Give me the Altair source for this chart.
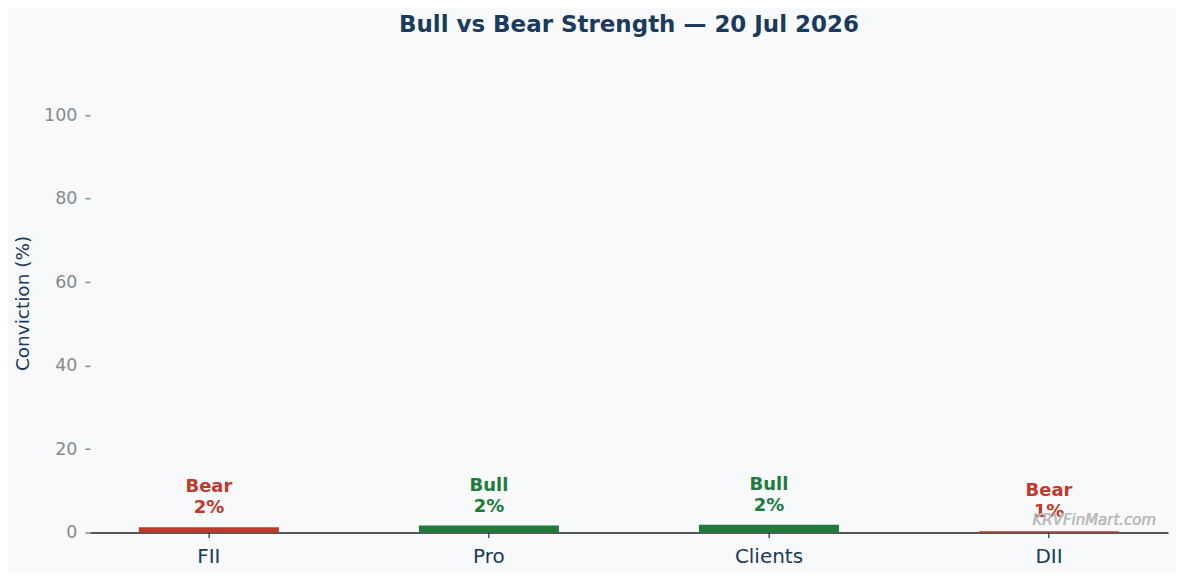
import altair as alt
import pandas as pd

# participant conviction for the day
participants = ["FII", "Pro", "Clients", "DII"]
conviction = [1.3, 1.7, 1.9, 0.3]
stance = ["Bear", "Bull", "Bull", "Bear"]
pct_text = ["2%", "2%", "2%", "1%"]

title_text = "Bull vs Bear Strength — 20 Jul 2026"
watermark = "KRVFinMart.com"

navy = "#1b3a5c"
font = "DejaVu Sans"

df = pd.DataFrame({
    "participant": participants,
    "conviction": conviction,
    "stance": stance,
    "label": [[s, p] for s, p in zip(stance, pct_text)],
})

color = alt.Color(
    "stance:N",
    scale=alt.Scale(domain=["Bull", "Bear"], range=["#1e7b3c", "#c0392b"]),
    legend=None,
)

x = alt.X(
    "participant:N",
    sort=participants,
    title=None,
    scale=alt.Scale(paddingInner=0.5, paddingOuter=0.175),
    axis=alt.Axis(labelAngle=0, labelFontSize=20, labelColor=navy, labelFont=font,
                  domainColor="#222222", domainWidth=1.5, tickColor="#3a5a7c",
                  tickSize=5, tickWidth=1.5, labelPadding=9),
)
y = alt.Y(
    "conviction:Q",
    title="Conviction (%)",
    scale=alt.Scale(domain=[0, 110], nice=False),
    axis=alt.Axis(values=[0, 20, 40, 60, 80, 100], grid=False, domain=False,
                  labelColor="#8a8a8a", labelFontSize=17.5, labelFont=font,
                  tickColor="#8a8a8a", tickSize=5, tickWidth=1.5, labelPadding=8,
                  titleColor=navy, titleFontSize=18.5, titleFont=font,
                  titleFontWeight="normal", titlePadding=11),
)

base = alt.Chart(df)

bars = base.mark_bar().encode(x=x, y=y, color=color)

# two-line label (stance over percent) above each bar
labels = base.mark_text(
    baseline="bottom", dy=-31, fontSize=18, fontWeight="bold", font=font,
    lineHeight=21,
).encode(
    x=alt.X("participant:N", sort=participants),
    y="conviction:Q",
    text="label",
    color=color,
)

mark_wm = base.mark_text(
    align="right", baseline="middle", fontSize=15, fontStyle="italic",
    font=font, color="#bdbdbd",
).encode(
    x=alt.value(1068), y=alt.value(447), text=alt.value(watermark),
)

chart = alt.layer(bars, labels, mark_wm).properties(
    width=1080,
    height=460,
    autosize=alt.AutoSizeParams(type="none"),
    padding={"left": 82, "top": 65, "right": 8, "bottom": 40},
    background="#f7f9fb",
    title=alt.TitleParams(title_text, fontSize=23, fontWeight="bold", color=navy,
                          font=font, anchor="middle", offset=36),
).configure_view(stroke=None)

chart.save("out.html", embed_options={"renderer": "svg", "actions": False})
